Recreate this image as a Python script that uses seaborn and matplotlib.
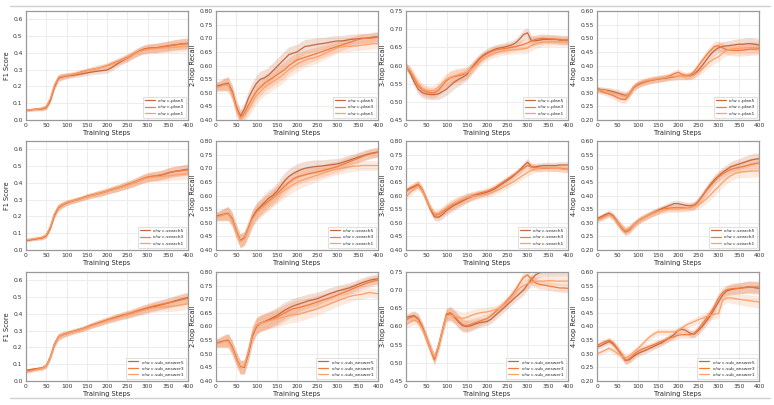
import numpy as np
import matplotlib
matplotlib.use("Agg")
import matplotlib.pyplot as plt
import seaborn as sns

# training steps (every 10 steps)
steps = list(range(0, 401, 10))

# ---------------- row 1 : c-plan ----------------
f1_plan5 = [0.060, 0.061, 0.063, 0.065, 0.066, 0.074, 0.115, 0.195, 0.248, 0.257,
            0.262, 0.265, 0.268, 0.272, 0.276, 0.281, 0.285, 0.289, 0.292, 0.295,
            0.298, 0.310, 0.326, 0.342, 0.356, 0.368, 0.382, 0.398, 0.412, 0.422,
            0.428, 0.430, 0.430, 0.434, 0.438, 0.442, 0.446, 0.448, 0.452, 0.455, 0.455]
f1_plan3 = [0.058, 0.060, 0.063, 0.066, 0.068, 0.078, 0.122, 0.202, 0.252, 0.260,
            0.265, 0.270, 0.275, 0.282, 0.289, 0.295, 0.300, 0.305, 0.310, 0.317,
            0.324, 0.334, 0.344, 0.354, 0.364, 0.374, 0.388, 0.400, 0.410, 0.420,
            0.425, 0.428, 0.430, 0.433, 0.436, 0.440, 0.445, 0.450, 0.452, 0.455, 0.458]
f1_plan1 = [0.060, 0.062, 0.064, 0.066, 0.070, 0.080, 0.128, 0.208, 0.255, 0.262,
            0.266, 0.270, 0.275, 0.280, 0.287, 0.293, 0.300, 0.305, 0.310, 0.315,
            0.320, 0.330, 0.340, 0.350, 0.360, 0.370, 0.385, 0.395, 0.408, 0.415,
            0.420, 0.424, 0.425, 0.428, 0.430, 0.430, 0.432, 0.435, 0.437, 0.440, 0.440]

r2_plan5 = [0.525, 0.528, 0.532, 0.535, 0.505, 0.450, 0.415, 0.440, 0.480, 0.510,
            0.535, 0.550, 0.555, 0.565, 0.580, 0.595, 0.610, 0.625, 0.640, 0.645,
            0.650, 0.660, 0.670, 0.672, 0.675, 0.678, 0.680, 0.682, 0.685, 0.688,
            0.690, 0.690, 0.692, 0.695, 0.697, 0.698, 0.700, 0.700, 0.702, 0.705, 0.705]
r2_plan3 = [0.522, 0.525, 0.530, 0.530, 0.500, 0.445, 0.410, 0.425, 0.455, 0.480,
            0.505, 0.520, 0.535, 0.545, 0.555, 0.565, 0.575, 0.585, 0.600, 0.610,
            0.620, 0.625, 0.630, 0.635, 0.640, 0.645, 0.650, 0.655, 0.660, 0.665,
            0.670, 0.675, 0.680, 0.685, 0.690, 0.695, 0.698, 0.700, 0.700, 0.702, 0.705]
r2_plan1 = [0.520, 0.522, 0.528, 0.530, 0.495, 0.440, 0.405, 0.415, 0.440, 0.465,
            0.490, 0.505, 0.520, 0.530, 0.540, 0.550, 0.560, 0.572, 0.585, 0.595,
            0.605, 0.612, 0.620, 0.625, 0.628, 0.632, 0.638, 0.645, 0.652, 0.658,
            0.665, 0.668, 0.670, 0.670, 0.672, 0.672, 0.675, 0.676, 0.678, 0.680, 0.680]

r3_plan5 = [0.600, 0.580, 0.555, 0.535, 0.525, 0.522, 0.520, 0.520, 0.522, 0.528,
            0.535, 0.545, 0.555, 0.562, 0.568, 0.575, 0.590, 0.605, 0.618, 0.628,
            0.635, 0.640, 0.645, 0.648, 0.650, 0.653, 0.656, 0.662, 0.672, 0.685,
            0.690, 0.668, 0.668, 0.670, 0.672, 0.672, 0.672, 0.672, 0.670, 0.670, 0.670]
r3_plan3 = [0.598, 0.585, 0.565, 0.545, 0.532, 0.528, 0.525, 0.525, 0.532, 0.545,
            0.558, 0.566, 0.570, 0.572, 0.575, 0.580, 0.590, 0.602, 0.615, 0.625,
            0.632, 0.638, 0.642, 0.645, 0.646, 0.648, 0.650, 0.652, 0.655, 0.658,
            0.662, 0.668, 0.672, 0.674, 0.675, 0.674, 0.673, 0.672, 0.672, 0.670, 0.670]
r3_plan1 = [0.595, 0.588, 0.570, 0.550, 0.538, 0.532, 0.530, 0.532, 0.540, 0.552,
            0.562, 0.568, 0.572, 0.575, 0.578, 0.580, 0.588, 0.598, 0.608, 0.618,
            0.625, 0.630, 0.635, 0.638, 0.640, 0.642, 0.643, 0.644, 0.645, 0.646,
            0.648, 0.655, 0.660, 0.663, 0.665, 0.665, 0.666, 0.666, 0.665, 0.665, 0.665]

r4_plan5 = [0.315, 0.312, 0.310, 0.308, 0.304, 0.300, 0.295, 0.290, 0.298, 0.318,
            0.330, 0.336, 0.341, 0.345, 0.348, 0.350, 0.352, 0.354, 0.356, 0.358,
            0.360, 0.360, 0.360, 0.362, 0.368, 0.382, 0.400, 0.420, 0.440, 0.455,
            0.465, 0.470, 0.472, 0.474, 0.476, 0.478, 0.478, 0.480, 0.480, 0.478, 0.475]
r4_plan3 = [0.312, 0.305, 0.300, 0.295, 0.290, 0.282, 0.276, 0.275, 0.295, 0.318,
            0.328, 0.335, 0.340, 0.344, 0.347, 0.350, 0.353, 0.356, 0.362, 0.370,
            0.375, 0.368, 0.362, 0.365, 0.378, 0.398, 0.418, 0.438, 0.455, 0.470,
            0.472, 0.465, 0.458, 0.456, 0.455, 0.455, 0.456, 0.458, 0.460, 0.460, 0.462]
r4_plan1 = [0.310, 0.310, 0.308, 0.303, 0.298, 0.293, 0.290, 0.286, 0.300, 0.322,
            0.334, 0.340, 0.344, 0.347, 0.350, 0.352, 0.354, 0.356, 0.358, 0.359,
            0.360, 0.360, 0.360, 0.360, 0.365, 0.375, 0.388, 0.402, 0.415, 0.425,
            0.432, 0.445, 0.455, 0.460, 0.462, 0.463, 0.464, 0.465, 0.466, 0.466, 0.466]

# ---------------- row 2 : c-search ----------------
f1_search5 = [0.058, 0.060, 0.064, 0.068, 0.072, 0.085, 0.130, 0.205, 0.252, 0.268,
              0.280, 0.288, 0.295, 0.302, 0.310, 0.318, 0.325, 0.330, 0.336, 0.342,
              0.350, 0.358, 0.365, 0.372, 0.380, 0.388, 0.396, 0.405, 0.415, 0.425,
              0.432, 0.438, 0.440, 0.445, 0.450, 0.458, 0.465, 0.470, 0.474, 0.478, 0.482]
f1_search3 = [0.060, 0.062, 0.066, 0.070, 0.074, 0.088, 0.135, 0.210, 0.255, 0.270,
              0.282, 0.290, 0.297, 0.304, 0.312, 0.320, 0.326, 0.332, 0.338, 0.345,
              0.352, 0.360, 0.366, 0.373, 0.381, 0.390, 0.398, 0.408, 0.418, 0.428,
              0.435, 0.440, 0.442, 0.446, 0.452, 0.460, 0.466, 0.470, 0.472, 0.475, 0.478]
f1_search1 = [0.062, 0.064, 0.068, 0.072, 0.076, 0.090, 0.140, 0.215, 0.258, 0.272,
              0.283, 0.290, 0.296, 0.302, 0.310, 0.317, 0.323, 0.330, 0.336, 0.342,
              0.350, 0.357, 0.364, 0.371, 0.378, 0.386, 0.394, 0.404, 0.414, 0.424,
              0.430, 0.434, 0.436, 0.438, 0.440, 0.442, 0.445, 0.448, 0.450, 0.452, 0.455]

r2_search5 = [0.525, 0.528, 0.532, 0.535, 0.515, 0.470, 0.435, 0.445, 0.480, 0.520,
              0.545, 0.560, 0.575, 0.590, 0.600, 0.615, 0.635, 0.655, 0.670, 0.680,
              0.688, 0.695, 0.700, 0.703, 0.705, 0.707, 0.708, 0.710, 0.712, 0.714,
              0.716, 0.720, 0.725, 0.730, 0.735, 0.740, 0.745, 0.750, 0.754, 0.757, 0.760]
r2_search3 = [0.522, 0.526, 0.530, 0.533, 0.512, 0.468, 0.433, 0.442, 0.478, 0.515,
              0.540, 0.555, 0.568, 0.580, 0.592, 0.605, 0.620, 0.635, 0.648, 0.660,
              0.668, 0.672, 0.676, 0.680, 0.683, 0.686, 0.690, 0.694, 0.698, 0.702,
              0.706, 0.712, 0.718, 0.724, 0.730, 0.736, 0.742, 0.748, 0.752, 0.755, 0.758]
r2_search1 = [0.520, 0.524, 0.530, 0.532, 0.510, 0.465, 0.432, 0.440, 0.475, 0.512,
              0.535, 0.550, 0.562, 0.575, 0.588, 0.600, 0.610, 0.620, 0.630, 0.640,
              0.648, 0.655, 0.660, 0.665, 0.670, 0.675, 0.680, 0.685, 0.690, 0.694,
              0.697, 0.700, 0.703, 0.705, 0.707, 0.708, 0.710, 0.710, 0.710, 0.710, 0.710]

r3_search5 = [0.615, 0.625, 0.632, 0.640, 0.620, 0.585, 0.550, 0.522, 0.520, 0.530,
              0.545, 0.555, 0.565, 0.572, 0.580, 0.588, 0.594, 0.600, 0.605, 0.608,
              0.612, 0.618, 0.625, 0.635, 0.645, 0.655, 0.665, 0.678, 0.692, 0.708,
              0.722, 0.705, 0.705, 0.708, 0.710, 0.710, 0.710, 0.710, 0.712, 0.712, 0.712]
r3_search3 = [0.620, 0.628, 0.635, 0.642, 0.622, 0.588, 0.553, 0.528, 0.530, 0.540,
              0.552, 0.562, 0.570, 0.578, 0.585, 0.592, 0.598, 0.603, 0.608, 0.612,
              0.616, 0.622, 0.630, 0.640, 0.650, 0.660, 0.670, 0.680, 0.690, 0.700,
              0.710, 0.705, 0.702, 0.700, 0.700, 0.700, 0.700, 0.700, 0.700, 0.698, 0.696]
r3_search1 = [0.595, 0.610, 0.625, 0.635, 0.618, 0.585, 0.555, 0.535, 0.535, 0.545,
              0.555, 0.565, 0.572, 0.580, 0.586, 0.592, 0.596, 0.598, 0.600, 0.602,
              0.604, 0.610, 0.616, 0.622, 0.630, 0.638, 0.646, 0.655, 0.665, 0.675,
              0.685, 0.692, 0.698, 0.700, 0.702, 0.702, 0.700, 0.700, 0.698, 0.696, 0.695]

r4_search5 = [0.315, 0.322, 0.330, 0.335, 0.325, 0.305, 0.285, 0.270, 0.278, 0.292,
              0.305, 0.315, 0.322, 0.330, 0.338, 0.345, 0.352, 0.358, 0.364, 0.370,
              0.370, 0.367, 0.364, 0.362, 0.365, 0.378, 0.398, 0.420, 0.440, 0.458,
              0.472, 0.485, 0.495, 0.505, 0.510, 0.515, 0.520, 0.525, 0.530, 0.533, 0.535]
r4_search3 = [0.312, 0.318, 0.326, 0.332, 0.322, 0.300, 0.280, 0.265, 0.272, 0.290,
              0.304, 0.314, 0.322, 0.330, 0.336, 0.342, 0.348, 0.352, 0.354, 0.355,
              0.355, 0.355, 0.355, 0.356, 0.362, 0.378, 0.398, 0.418, 0.435, 0.452,
              0.468, 0.478, 0.488, 0.495, 0.500, 0.503, 0.506, 0.510, 0.514, 0.517, 0.520]
r4_search1 = [0.310, 0.315, 0.322, 0.330, 0.320, 0.302, 0.284, 0.272, 0.278, 0.292,
              0.305, 0.315, 0.322, 0.330, 0.336, 0.342, 0.346, 0.348, 0.350, 0.350,
              0.350, 0.352, 0.355, 0.358, 0.360, 0.366, 0.375, 0.388, 0.402, 0.418,
              0.432, 0.448, 0.462, 0.472, 0.480, 0.485, 0.487, 0.488, 0.489, 0.490, 0.490]

# ---------------- row 3 : c-sub_answer ----------------
f1_answer5 = [0.065, 0.068, 0.072, 0.075, 0.078, 0.090, 0.140, 0.215, 0.262, 0.275,
              0.282, 0.290, 0.297, 0.304, 0.310, 0.320, 0.330, 0.338, 0.346, 0.354,
              0.362, 0.370, 0.377, 0.384, 0.390, 0.396, 0.402, 0.410, 0.418, 0.425,
              0.432, 0.440, 0.446, 0.452, 0.458, 0.465, 0.472, 0.480, 0.486, 0.492, 0.498]
f1_answer3 = [0.060, 0.064, 0.069, 0.073, 0.077, 0.092, 0.145, 0.222, 0.265, 0.277,
              0.285, 0.292, 0.299, 0.306, 0.313, 0.322, 0.332, 0.340, 0.348, 0.356,
              0.364, 0.372, 0.380, 0.387, 0.394, 0.400, 0.407, 0.415, 0.423, 0.430,
              0.437, 0.444, 0.450, 0.455, 0.460, 0.465, 0.470, 0.476, 0.482, 0.488, 0.492]
f1_answer1 = [0.050, 0.056, 0.063, 0.070, 0.075, 0.090, 0.142, 0.218, 0.262, 0.274,
              0.282, 0.289, 0.296, 0.303, 0.310, 0.318, 0.327, 0.335, 0.343, 0.351,
              0.359, 0.366, 0.373, 0.380, 0.387, 0.394, 0.401, 0.408, 0.415, 0.422,
              0.428, 0.434, 0.438, 0.440, 0.442, 0.444, 0.446, 0.448, 0.452, 0.456, 0.460]

r2_answer5 = [0.540, 0.543, 0.547, 0.550, 0.525, 0.485, 0.452, 0.450, 0.500, 0.565,
              0.600, 0.612, 0.618, 0.625, 0.632, 0.640, 0.650, 0.660, 0.668, 0.675,
              0.680, 0.685, 0.690, 0.695, 0.698, 0.702, 0.708, 0.714, 0.720, 0.725,
              0.730, 0.734, 0.738, 0.742, 0.748, 0.754, 0.760, 0.765, 0.770, 0.773, 0.775]
r2_answer3 = [0.538, 0.542, 0.546, 0.548, 0.523, 0.482, 0.450, 0.452, 0.505, 0.570,
              0.602, 0.612, 0.617, 0.622, 0.628, 0.634, 0.642, 0.650, 0.658, 0.665,
              0.668, 0.672, 0.676, 0.680, 0.685, 0.690, 0.695, 0.700, 0.705, 0.710,
              0.716, 0.722, 0.728, 0.734, 0.740, 0.746, 0.752, 0.758, 0.763, 0.767, 0.770]
r2_answer1 = [0.535, 0.540, 0.545, 0.546, 0.520, 0.480, 0.448, 0.455, 0.510, 0.575,
              0.605, 0.612, 0.616, 0.620, 0.624, 0.628, 0.632, 0.636, 0.640, 0.642,
              0.645, 0.648, 0.652, 0.656, 0.660, 0.665, 0.670, 0.676, 0.682, 0.688,
              0.694, 0.700, 0.705, 0.710, 0.714, 0.716, 0.718, 0.722, 0.725, 0.722, 0.720]

r3_answer5 = [0.625, 0.628, 0.630, 0.622, 0.600, 0.570, 0.540, 0.510, 0.545, 0.590,
              0.632, 0.635, 0.625, 0.612, 0.602, 0.600, 0.602, 0.606, 0.610, 0.612,
              0.614, 0.620, 0.630, 0.640, 0.650, 0.660, 0.670, 0.680, 0.690, 0.700,
              0.715, 0.730, 0.742, 0.748, 0.750, 0.750, 0.750, 0.750, 0.750, 0.750, 0.750]
r3_answer3 = [0.618, 0.624, 0.628, 0.620, 0.598, 0.568, 0.538, 0.508, 0.545, 0.592,
              0.635, 0.638, 0.628, 0.615, 0.605, 0.602, 0.606, 0.610, 0.614, 0.618,
              0.622, 0.630, 0.640, 0.650, 0.660, 0.672, 0.685, 0.700, 0.718, 0.735,
              0.742, 0.730, 0.720, 0.716, 0.714, 0.712, 0.710, 0.708, 0.706, 0.706, 0.705]
r3_answer1 = [0.605, 0.612, 0.618, 0.612, 0.595, 0.568, 0.540, 0.515, 0.548, 0.592,
              0.630, 0.632, 0.628, 0.625, 0.622, 0.625, 0.630, 0.634, 0.637, 0.639,
              0.640, 0.643, 0.646, 0.650, 0.658, 0.668, 0.680, 0.692, 0.705, 0.712,
              0.718, 0.722, 0.724, 0.725, 0.725, 0.726, 0.726, 0.725, 0.725, 0.725, 0.725]

r4_answer5 = [0.325, 0.330, 0.338, 0.345, 0.335, 0.318, 0.298, 0.275, 0.278, 0.290,
              0.300, 0.307, 0.313, 0.320, 0.327, 0.334, 0.340, 0.350, 0.360, 0.370,
              0.385, 0.390, 0.385, 0.375, 0.372, 0.385, 0.400, 0.420, 0.440, 0.465,
              0.490, 0.515, 0.530, 0.535, 0.538, 0.540, 0.542, 0.545, 0.545, 0.542, 0.540]
r4_answer3 = [0.330, 0.338, 0.345, 0.350, 0.340, 0.320, 0.298, 0.275, 0.282, 0.295,
              0.308, 0.316, 0.322, 0.328, 0.333, 0.340, 0.346, 0.352, 0.358, 0.362,
              0.368, 0.370, 0.370, 0.370, 0.375, 0.390, 0.410, 0.430, 0.450, 0.475,
              0.505, 0.525, 0.535, 0.538, 0.540, 0.540, 0.542, 0.543, 0.544, 0.545, 0.545]
r4_answer1 = [0.300, 0.306, 0.313, 0.320, 0.312, 0.302, 0.292, 0.285, 0.292, 0.305,
              0.318, 0.332, 0.348, 0.362, 0.372, 0.380, 0.380, 0.380, 0.380, 0.380,
              0.385, 0.395, 0.405, 0.412, 0.418, 0.425, 0.430, 0.437, 0.442, 0.445,
              0.448, 0.495, 0.505, 0.505, 0.503, 0.500, 0.498, 0.496, 0.494, 0.492, 0.490]

# spread of the raw (unsmoothed) curves around the smoothed ones, per metric
noise_f1 = [0.008, 0.008, 0.009, 0.010, 0.012, 0.014, 0.016, 0.018, 0.020, 0.018,
            0.016, 0.015, 0.015, 0.015, 0.015, 0.016, 0.016, 0.017, 0.018, 0.018,
            0.018, 0.019, 0.020, 0.020, 0.021, 0.022, 0.022, 0.023, 0.024, 0.025,
            0.026, 0.027, 0.028, 0.028, 0.029, 0.030, 0.030, 0.031, 0.031, 0.032, 0.032]
noise_2hop = [0.015, 0.018, 0.022, 0.025, 0.025, 0.025, 0.025, 0.025, 0.028, 0.030,
              0.030, 0.030, 0.030, 0.030, 0.030, 0.030, 0.030, 0.030, 0.028, 0.028,
              0.028, 0.027, 0.026, 0.025, 0.025, 0.024, 0.023, 0.022, 0.022, 0.021,
              0.020, 0.020, 0.020, 0.019, 0.018, 0.018, 0.018, 0.018, 0.018, 0.018, 0.018]
noise_3hop = [0.010, 0.012, 0.013, 0.014, 0.014, 0.014, 0.014, 0.014, 0.015, 0.016,
              0.017, 0.018, 0.018, 0.018, 0.017, 0.016, 0.015, 0.014, 0.013, 0.012,
              0.012, 0.012, 0.012, 0.012, 0.012, 0.012, 0.012, 0.012, 0.013, 0.014,
              0.014, 0.014, 0.013, 0.013, 0.012, 0.012, 0.012, 0.012, 0.012, 0.012, 0.012]
noise_4hop = [0.010, 0.010, 0.010, 0.011, 0.012, 0.013, 0.014, 0.014, 0.014, 0.013,
              0.012, 0.012, 0.012, 0.012, 0.012, 0.012, 0.012, 0.012, 0.012, 0.012,
              0.012, 0.012, 0.012, 0.013, 0.014, 0.015, 0.016, 0.017, 0.018, 0.018,
              0.018, 0.018, 0.018, 0.019, 0.020, 0.020, 0.021, 0.022, 0.022, 0.022, 0.022]

ylabels = ["F1 Score", "2-hop Recall", "3-hop Recall", "4-hop Recall"]
ylims = [[(0, 0.65), (0.40, 0.80), (0.45, 0.75), (0.20, 0.60)],
         [(0, 0.65), (0.40, 0.80), (0.40, 0.80), (0.20, 0.60)],
         [(0, 0.65), (0.40, 0.80), (0.45, 0.75), (0.20, 0.60)]]
row_names = ["c-plan", "c-search", "c-sub_answer"]
panels = [
    [(f1_plan5, f1_plan3, f1_plan1), (r2_plan5, r2_plan3, r2_plan1),
     (r3_plan5, r3_plan3, r3_plan1), (r4_plan5, r4_plan3, r4_plan1)],
    [(f1_search5, f1_search3, f1_search1), (r2_search5, r2_search3, r2_search1),
     (r3_search5, r3_search3, r3_search1), (r4_search5, r4_search3, r4_search1)],
    [(f1_answer5, f1_answer3, f1_answer1), (r2_answer5, r2_answer3, r2_answer1),
     (r3_answer5, r3_answer3, r3_answer1), (r4_answer5, r4_answer3, r4_answer1)],
]
noises = [noise_f1, noise_2hop, noise_3hop, noise_4hop]
suffix = ["5", "3", "1"]
colors = ["#c4683f", "#f27a3c", "#f9a06c"]

sns.set_theme(style="whitegrid")
plt.rcParams['font.family'] = ['DejaVu Sans']

fig = plt.figure(figsize=(7.74, 4.05), dpi=100)
W, H = 774, 405
col_left = [26, 216, 406, 597]
row_top = [11, 141, 272]
aw, ah = 162, 109

# light frame lines across the figure
fig.add_artist(plt.Line2D([10 / W, 770 / W], [1 - 5.5 / H, 1 - 5.5 / H], color="#d0d0d0", lw=1))
fig.add_artist(plt.Line2D([10 / W, 770 / W], [1 - 397.5 / H, 1 - 397.5 / H], color="#d0d0d0", lw=1))

x = np.array(steps)
for r in range(3):
    for c in range(4):
        ax = fig.add_axes([col_left[c] / W, 1 - (row_top[r] + ah) / H, aw / W, ah / H])
        nz = np.array(noises[c])
        for k in range(3):
            y = np.array(panels[r][c][k])
            ax.fill_between(x, y - nz, y + nz, color=colors[k], alpha=0.22, lw=0)
            sns.lineplot(x=x, y=y, color=colors[k], lw=0.9, ax=ax,
                         label="o/w " + row_names[r] + suffix[k])
        ax.set_xlim(0, 400)
        ax.set_ylim(*ylims[r][c])
        ax.set_xticks(range(0, 401, 50))
        lo, hi = ylims[r][c]
        if c == 0:
            ax.set_yticks(np.arange(0, 0.61, 0.1))
        else:
            ax.set_yticks(np.arange(lo, hi + 0.001, 0.05))
            ax.yaxis.set_major_formatter(matplotlib.ticker.FormatStrFormatter('%.2f'))
        if c == 0:
            ax.yaxis.set_major_formatter(matplotlib.ticker.FormatStrFormatter('%.1f'))
        ax.tick_params(labelsize=4.3, length=1.5, width=0.5, pad=1, colors="#333333")
        ax.set_xlabel("Training Steps", fontsize=4.8, labelpad=1)
        ax.set_ylabel(ylabels[c], fontsize=4.8, labelpad=2)
        ax.grid(True, color="#e6e6e6", lw=0.5)
        ax.set_facecolor("white")
        for s in ax.spines.values():
            s.set_color("#999999")
            s.set_linewidth(0.9)
        leg = ax.legend(loc="lower right", fontsize=3.2, frameon=True,
                        handlelength=2.2, borderpad=0.5, labelspacing=0.5)
        leg.get_frame().set_linewidth(0.4)
        leg.get_frame().set_edgecolor("#bbbbbb")

fig.savefig("out.png", dpi=100)
